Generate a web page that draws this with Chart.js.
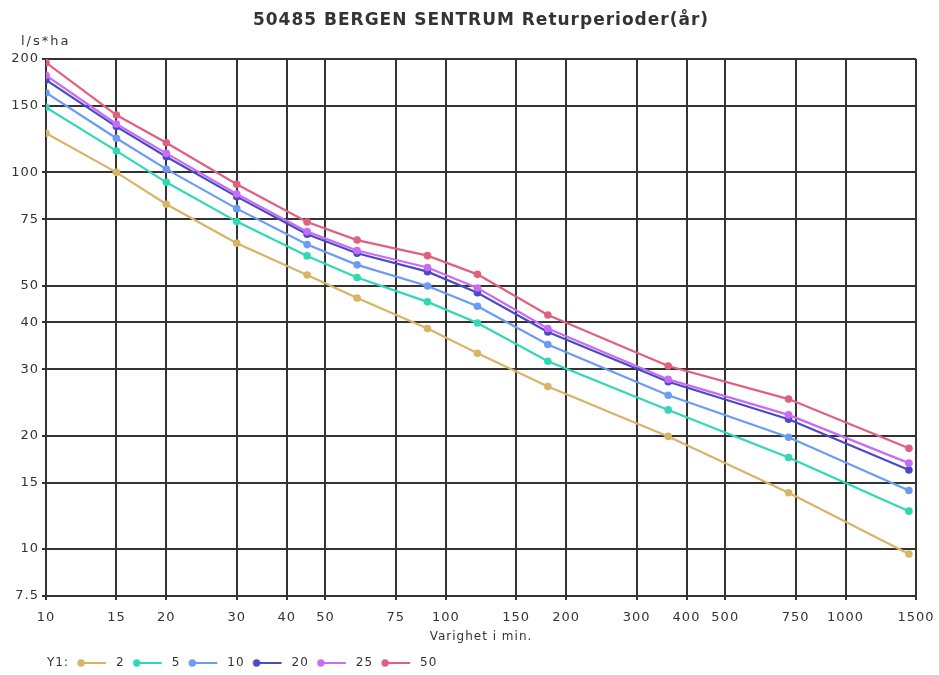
<!DOCTYPE html>
<html><head><meta charset="utf-8">
<script src="https://cdn.jsdelivr.net/npm/chart.js@4/dist/chart.umd.min.js"></script>
<style>html,body{margin:0;padding:0;background:#fff}</style>
</head><body>
<canvas id="c" width="939" height="675"></canvas>
<script>
// ---- data ----
const titleText = '50485 BERGEN SENTRUM Returperioder(år)';
const yUnitText = 'l/s*ha';
const xTitleText = 'Varighet i min.';
const legendPrefix = 'Y1:';
const durations = [10, 15, 20, 30, 45, 60, 90, 120, 180, 360, 720, 1440];
const returnPeriods = ['2', '5', '10', '20', '25', '50'];
const rp2  = [127, 100, 82.3, 64.8, 53.4, 46.4, 38.5, 33.1, 27.0, 19.9, 14.1, 9.7];
const rp5  = [148.8, 114, 94.1, 74, 60, 52.6, 45.3, 39.8, 31.5, 23.4, 17.5, 12.6];
const rp10 = [162.7, 123.2, 102, 80.1, 64.3, 56.8, 49.9, 44.1, 34.9, 25.6, 19.8, 14.3];
const rp20 = [176, 132.3, 110, 86.2, 68.5, 61, 54.5, 47.9, 37.7, 27.8, 22.1, 16.2];
const rp25 = [181, 134.4, 112.3, 87.6, 69.6, 62, 55.9, 49.3, 38.5, 28.2, 22.7, 16.9];
const rp50 = [195.5, 142, 119.9, 93, 73.8, 66.1, 60.1, 53.6, 41.8, 30.6, 25.0, 18.5];
const xTickValues = [10, 15, 20, 30, 40, 50, 75, 100, 150, 200, 300, 400, 500, 750, 1000, 1500];
const yTickValues = [7.5, 10, 15, 20, 30, 40, 50, 75, 100, 150, 200];

// ---- styles ----
const seriesValues = [rp2, rp5, rp10, rp20, rp25, rp50];
const seriesColors = ['#d8b466', '#30d8b4', '#6b9bf8', '#4a4ac6', '#c86cf6', '#e0607e'];
const gridColor = '#333333';
const textColor = '#333333';
const FONT = '"DejaVu Sans", Verdana, sans-serif';

function legendIcon(color) {
  const c = document.createElement('canvas');
  c.width = 36; c.height = 10;
  const g = c.getContext('2d');
  if (color) {
    g.strokeStyle = color; g.lineWidth = 2;
    g.beginPath(); g.moveTo(7, 5); g.lineTo(32, 5); g.stroke();
    g.fillStyle = color;
    g.beginPath(); g.arc(7, 5, 3.7, 0, Math.PI * 2); g.fill();
  }
  return c;
}
const blankIcon = legendIcon(null);
const icons = seriesColors.map(legendIcon);

const spacingPlugin = {
  id: 'spacing',
  beforeUpdate(chart) { chart.ctx.letterSpacing = '1px'; },
  beforeDraw(chart) { chart.ctx.letterSpacing = '1px'; }
};
const headerPlugin = {
  id: 'header',
  afterDraw(chart) {
    const { ctx, chartArea } = chart;
    ctx.save();
    ctx.fillStyle = textColor;
    ctx.letterSpacing = '1px';
    ctx.font = 'bold 17px ' + FONT;
    ctx.textAlign = 'center';
    ctx.textBaseline = 'middle';
    ctx.fillText(titleText, (chartArea.left + chartArea.right) / 2, 21);
    ctx.letterSpacing = '2px';
    ctx.font = '13px ' + FONT;
    ctx.textAlign = 'left';
    ctx.fillText(yUnitText, 21, 42);
    ctx.restore();
  }
};

const datasets = seriesValues.map((vals, i) => ({
  label: returnPeriods[i],
  data: durations.map((d, j) => ({ x: d, y: vals[j] })),
  borderColor: seriesColors[i],
  backgroundColor: seriesColors[i],
  pointBackgroundColor: seriesColors[i],
  pointBorderWidth: 0,
  pointRadius: 3.8,
  borderWidth: 2.2,
  tension: 0,
  order: seriesColors.length - i
}));

new Chart(document.getElementById('c'), {
  type: 'line',
  data: { datasets },
  plugins: [spacingPlugin, headerPlugin],
  options: {
    responsive: false,
    animation: false,
    devicePixelRatio: 1,
    layout: { padding: { top: 59, right: 23, bottom: 0, left: 0 } },
    plugins: {
      title: { display: false },
      tooltip: { enabled: false },
      legend: {
        position: 'bottom',
        align: 'start',
        maxHeight: 23,
        onClick: null,
        labels: {
          usePointStyle: true,
          pointStyleWidth: 36,
          padding: 5,
          color: textColor,
          font: { family: FONT, size: 12 },
          generateLabels(chart) {
            const items = [{ text: legendPrefix, pointStyle: blankIcon, fillStyle: 'rgba(0,0,0,0)', strokeStyle: 'rgba(0,0,0,0)', lineWidth: 0, hidden: false, fontColor: textColor }];
            chart.data.datasets.forEach((ds, i) => items.push({
              text: ds.label, pointStyle: icons[i], fillStyle: ds.borderColor,
              strokeStyle: ds.borderColor, lineWidth: 0, hidden: false, datasetIndex: i, fontColor: textColor
            }));
            return items;
          }
        }
      }
    },
    scales: {
      x: {
        type: 'logarithmic',
        min: xTickValues[0],
        max: xTickValues[xTickValues.length - 1],
        afterBuildTicks(scale) { scale.ticks = xTickValues.map(v => ({ value: v })); },
        afterFit(scale) { scale.height = 56; scale.paddingLeft = 0; scale.paddingRight = 0; },
        ticks: {
          autoSkip: false, maxRotation: 0, padding: 10,
          color: textColor, font: { family: FONT, size: 13 },
          callback: (v) => String(v)
        },
        grid: { color: gridColor, lineWidth: 2, tickLength: 4, drawTicks: true },
        border: { display: true, color: gridColor, width: 2 },
        title: { display: true, text: xTitleText, color: textColor, font: { family: FONT, size: 12 }, padding: { top: 0, bottom: 8 } }
      },
      y: {
        type: 'logarithmic',
        min: yTickValues[0],
        max: yTickValues[yTickValues.length - 1],
        afterBuildTicks(scale) { scale.ticks = yTickValues.map(v => ({ value: v })); },
        afterFit(scale) { scale.width = 46; },
        ticks: {
          autoSkip: false, padding: 3,
          color: textColor, font: { family: FONT, size: 13 },
          callback: (v) => String(v)
        },
        grid: { color: gridColor, lineWidth: 2, tickLength: 4, drawTicks: true },
        border: { display: true, color: gridColor, width: 2 }
      }
    }
  }
});
</script>
</body></html>
